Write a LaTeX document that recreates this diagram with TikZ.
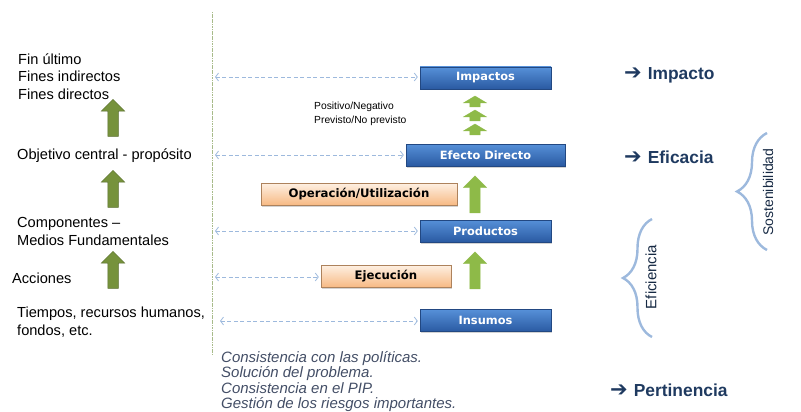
\documentclass[tikz,border=0pt]{standalone}
\usepackage{fontspec}
\setmainfont{Liberation Sans}
\newfontfamily\boxfont{DejaVu Sans}
\newfontfamily\symfont{DejaVu Sans}
\usepackage{tikz}
\usetikzlibrary{positioning,shapes.arrows,shadows,arrows.meta,decorations.pathreplacing}
\definecolor{boxtop}{HTML}{5690D8}
\definecolor{boxbot}{HTML}{2A5AA2}
\definecolor{peachtop}{HTML}{FEF0E3}
\definecolor{peachbot}{HTML}{F7BA84}
\definecolor{olive}{HTML}{76923C}
\definecolor{lightgreen}{HTML}{8EBA48}
\definecolor{linkblue}{HTML}{9DB9DD}
\definecolor{navy}{HTML}{1F3A60}
\definecolor{graytext}{HTML}{434E66}
\definecolor{sepgreen}{HTML}{A8BB8A}
\tikzset{
  bluebox/.style={draw=boxbot!80!black,line width=.4pt,top color=boxtop,bottom color=boxbot,
    text=white,font=\boxfont\bfseries\fontsize{11.4}{12}\selectfont,minimum height=22pt,inner sep=0pt,
    drop shadow={opacity=.35,shadow xshift=1.2pt,shadow yshift=-1.5pt}},
  peachbox/.style={draw=peachbot!70!black,line width=.4pt,top color=peachtop,bottom color=peachbot,
    text=black,font=\boxfont\bfseries\fontsize{11.7}{12}\selectfont,minimum height=22pt,inner sep=0pt,
    drop shadow={opacity=.35,shadow xshift=1.2pt,shadow yshift=-1.5pt}},
  blockarrow/.style={single arrow,rotate=90,inner xsep=0pt,inner ysep=5pt,text height=0pt,text depth=0pt,
    single arrow head extend=6.5pt,minimum height=37pt},
  darkup/.style={blockarrow,fill=olive,draw=olive!75!black,line width=.5pt},
  lightup/.style={blockarrow,fill=lightgreen,draw=lightgreen,line width=.3pt},
  smallup/.style={lightup,minimum height=11pt,single arrow tip angle=118},
  dashlink/.style={draw=linkblue,line width=.8pt,dash pattern=on 4pt off 2.5pt,
    {Straight Barb[length=3pt,width=8pt]}-{Straight Barb[length=3pt,width=8pt]},shorten >=2pt},
  lefttext/.style={anchor=west,align=left,inner sep=0pt,font=\fontsize{14.6}{17.5}\selectfont},
  result/.style={anchor=west,inner sep=0pt,text=navy,font=\bfseries\fontsize{17.4}{20}\selectfont},
  sidebrace/.style={draw=linkblue,line width=2.4pt,decorate},
  bracetext/.style={rotate=90,inner sep=0pt,text=navy!70!black}
}
\newcommand{\resarrow}{{\symfont\fontsize{21}{20}\selectfont ➔}\hspace{6pt}}
\begin{document}
\begin{tikzpicture}[x=1pt,y=-1pt]
  \useasboundingbox (0,0) rectangle (801,412);
  % left column
  \node (fines) [lefttext] at (18,76.5) {Fin último\\Fines indirectos\\Fines directos};
  \node (obj) [lefttext] at (17,156) {Objetivo central - propósito};
  \node (comp) [lefttext] at (17,231.5) {Componentes --\\Medios Fundamentales};
  \node (acc) [lefttext] at (12,278) {Acciones};
  \node (tiem) [lefttext] at (17,322) {Tiempos, recursos humanos,\\fondos, etc.};
  \node (up1) [darkup] at (113,120.5) {};
  \node (up2) [darkup] at (113,191.5) {};
  \node (up3) [darkup] at (113,272.5) {};
  % separator
  \coordinate (septop) at (212.5,12);
  \coordinate (sepbot) at (212.5,355);
  \draw[sepgreen,line width=1.1pt,dash pattern=on 1.2pt off .5pt] (septop) -- (sepbot);
  % boxes
  \node (imp) [bluebox,minimum width=131pt] at (485.5,78) {Impactos};
  \node (efd) [bluebox,minimum width=159pt] at (485.5,155) {Efecto Directo};
  \node (prod) [bluebox,minimum width=131pt] at (485.5,231) {Productos};
  \node (ins) [bluebox,minimum width=131pt] at (485.5,320.5) {Insumos};
  \node (oper) [peachbox,minimum width=196pt] at (359,194) {Operación/Utilización};
  \node (ejec) [peachbox,minimum width=130pt] at (386,276) {Ejecución};
  \node (pos) [anchor=west,align=left,inner sep=0pt,font=\fontsize{10.3}{14}\selectfont] at (314,114)
    {Positivo/Negativo\\Previsto/No previsto};
  % up arrows on the right
  \node (s1) [smallup] at (475,103) {};
  \node (s2) [smallup] at (475,117) {};
  \node (s3) [smallup] at (475,131) {};
  \node (up4) [lightup] at (475,197) {};
  \node (up5) [lightup] at (475,273) {};
  % dashed links
  \coordinate (v1) at (215,77);
  \coordinate (v2) at (215,155);
  \coordinate (v3) at (215,231);
  \coordinate (v4) at (215,277);
  \coordinate (v5) at (220,321);
  \draw[dashlink] (v1) -- (imp.west |- v1);
  \draw[dashlink] (v2) -- (efd.west |- v2);
  \draw[dashlink] (v3) -- (prod.west |- v3);
  \draw[dashlink] (v4) -- (ejec.west |- v4);
  \draw[dashlink] (v5) -- (ins.west |- v5);
  % results
  \node (rimp) [result] at (624,75) {\resarrow Impacto};
  \node (refi) [result] at (624,157) {\resarrow Eficacia};
  \node (rper) [result] at (610,390) {\resarrow Pertinencia};
  % braces
  \coordinate (sb1) at (767,250);
  \coordinate (sb2) at (767,133);
  \draw[sidebrace,decoration={brace,amplitude=30pt}] (sb1) -- (sb2);
  \node (sost) [bracetext,font=\fontsize{14}{16}\selectfont] at (768,192) {Sostenibilidad};
  \coordinate (eb1) at (652,337);
  \coordinate (eb2) at (652,219);
  \draw[sidebrace,decoration={brace,amplitude=29pt}] (eb1) -- (eb2);
  \node (efic) [bracetext,font=\fontsize{15}{17}\selectfont] at (651,277) {Eficiencia};
  % bottom
  \node (pert) [anchor=north west,align=left,inner sep=0pt,text=graytext,
    font=\itshape\fontsize{15}{15.5}\selectfont] at (221,351)
    {Consistencia con las políticas.\\Solución del problema.\\Consistencia en el PIP.\\Gestión de los riesgos importantes.};
\end{tikzpicture}
\end{document}
